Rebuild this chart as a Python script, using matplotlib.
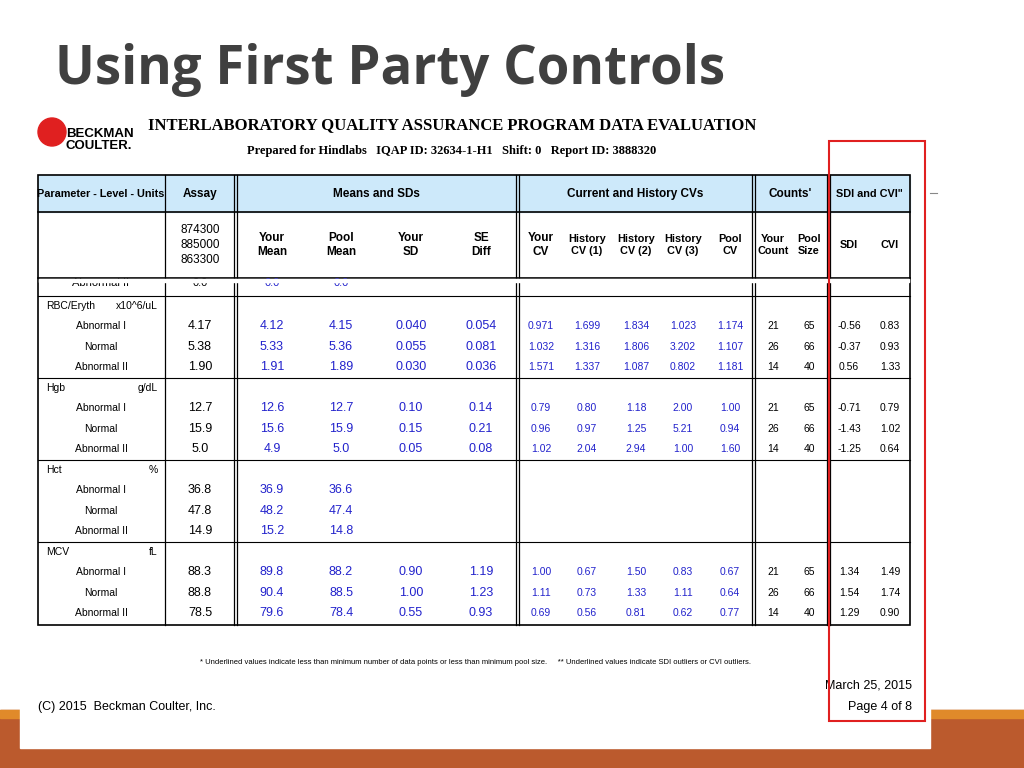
import matplotlib.pyplot as plt
from matplotlib.patches import Rectangle

# ---- data ----
assay_lots = ["874300", "885000", "863300"]
params = ["RBC/Eryth", "Hgb", "Hct", "MCV"]
units = ["x10^6/uL", "g/dL", "%", "fL"]
levels = ["Abnormal I", "Normal", "Abnormal II"]
assay = [["4.17", "5.38", "1.90"], ["12.7", "15.9", "5.0"], ["36.8", "47.8", "14.9"], ["88.3", "88.8", "78.5"]]
your_mean = [["4.12", "5.33", "1.91"], ["12.6", "15.6", "4.9"], ["36.9", "48.2", "15.2"], ["89.8", "90.4", "79.6"]]
pool_mean = [["4.15", "5.36", "1.89"], ["12.7", "15.9", "5.0"], ["36.6", "47.4", "14.8"], ["88.2", "88.5", "78.4"]]
your_sd = [["0.040", "0.055", "0.030"], ["0.10", "0.15", "0.05"], ["", "", ""], ["0.90", "1.00", "0.55"]]
se_diff = [["0.054", "0.081", "0.036"], ["0.14", "0.21", "0.08"], ["", "", ""], ["1.19", "1.23", "0.93"]]
your_cv = [["0.971", "1.032", "1.571"], ["0.79", "0.96", "1.02"], ["", "", ""], ["1.00", "1.11", "0.69"]]
hist1 = [["1.699", "1.316", "1.337"], ["0.80", "0.97", "2.04"], ["", "", ""], ["0.67", "0.73", "0.56"]]
hist2 = [["1.834", "1.806", "1.087"], ["1.18", "1.25", "2.94"], ["", "", ""], ["1.50", "1.33", "0.81"]]
hist3 = [["1.023", "3.202", "0.802"], ["2.00", "5.21", "1.00"], ["", "", ""], ["0.83", "1.11", "0.62"]]
pool_cv = [["1.174", "1.107", "1.181"], ["1.00", "0.94", "1.60"], ["", "", ""], ["0.67", "0.64", "0.77"]]
your_count = [["21", "26", "14"], ["21", "26", "14"], ["", "", ""], ["21", "26", "14"]]
pool_size = [["65", "66", "40"], ["65", "66", "40"], ["", "", ""], ["65", "66", "40"]]
sdi = [["-0.56", "-0.37", "0.56"], ["-0.71", "-1.43", "-1.25"], ["", "", ""], ["1.34", "1.54", "1.29"]]
cvi = [["0.83", "0.93", "1.33"], ["0.79", "1.02", "0.64"], ["", "", ""], ["1.49", "1.74", "0.90"]]

BLUE = "#2222cc"
columns = [(assay, 200, "black"), (your_mean, 272, BLUE), (pool_mean, 341, BLUE),
           (your_sd, 411, BLUE), (se_diff, 481, BLUE), (your_cv, 541, BLUE),
           (hist1, 587, BLUE), (hist2, 636, BLUE), (hist3, 683, BLUE),
           (pool_cv, 730, BLUE), (your_count, 773, "black"), (pool_size, 809, "black"),
           (sdi, 849, "black"), (cvi, 890, "black")]

F = "Liberation Sans"

fig = plt.figure(figsize=(10.24, 7.68), dpi=100)
ax = fig.add_axes([0, 0, 1, 1])
ax.set_xlim(0, 1024); ax.set_ylim(768, 0); ax.axis("off")

# slide background
ax.add_patch(Rectangle((0, 710), 1024, 58, color="#bb5a2d", zorder=0))
ax.add_patch(Rectangle((0, 710), 1024, 8, color="#e08a2a", zorder=0))
ax.add_patch(Rectangle((20, 100), 910, 648, color="white", zorder=1))
ax.text(55, 70, "Using First Party Controls", fontsize=38, fontweight="bold",
        color="#404040", family="Open Sans", va="center")

# logo + report header
ax.add_patch(plt.Circle((52, 132), 14, color="#e02020", zorder=2))
ax.text(66, 140, "BECKMAN\nCOULTER.", fontsize=9.5, fontweight="bold", family=F,
        va="center", linespacing=0.9, zorder=3)
ax.text(452, 125, "INTERLABORATORY QUALITY ASSURANCE PROGRAM DATA EVALUATION",
        fontsize=12, fontweight="bold", family="Liberation Serif", ha="center", va="center", zorder=3)
ax.text(452, 151, "Prepared for Hindlabs   IQAP ID: 32634-1-H1   Shift: 0   Report ID: 3888320",
        fontsize=9, fontweight="bold", family="Liberation Serif", ha="center", va="center", zorder=3)

# table frame
top, h1, h2, cut, bot = 175, 212, 278, 296, 625
ax.add_patch(Rectangle((38, top), 872, h1 - top, color="#cde9fa", zorder=2))
ax.add_patch(Rectangle((38, top), 872, bot - top, fill=False, lw=1.2, zorder=4))
for y in [h1, h2, cut, 378, 460, 542]:
    ax.plot([38, 910], [y, y], color="black", lw=1.2 if y in (h1, h2) else 0.8, zorder=4)
for x in [165, 235, 517, 753, 828]:
    for dx in (-1.5, 1.5) if x != 165 else (0,):
        ax.plot([x + dx, x + dx], [top, bot], color="black", lw=0.9, zorder=4)

kw = dict(family=F, fontsize=8.5, zorder=5, va="center")
for txt, x, fs in [("Parameter - Level - Units", 101, 7.8), ("Assay", 200, 8.5), ("Means and SDs", 376, 8.5),
                   ("Current and History CVs", 635, 8.5), ("Counts'", 790, 8.5), ("SDI and CVI\"", 869, 7.8)]:
    ax.text(x, 194, txt, ha="center", fontweight="bold", family=F, fontsize=fs, zorder=5, va="center")
ax.text(200, 245, "\n".join(assay_lots), ha="center", linespacing=1.3, **kw)
for txt, x in [("Your\nMean", 272), ("Pool\nMean", 341), ("Your\nSD", 411), ("SE\nDiff", 481),
               ("Your\nCV", 541), ("History\nCV (1)", 587), ("History\nCV (2)", 636),
               ("History\nCV (3)", 683), ("Pool\nCV", 730), ("Your\nCount", 773),
               ("Pool\nSize", 809), ("SDI", 849), ("CVI", 890)]:
    ax.text(x, 245, txt, ha="center", fontweight="bold", family=F,
            fontsize=8.5 if x < 560 else 7.8, zorder=5, va="center")
for txt, x, c in [("Abnormal II", 101, "black"), ("0.0", 200, "black"), ("0.0", 272, BLUE), ("0.0", 341, BLUE)]:
    ax.text(x, 283, txt, ha="center", color=c, family=F, fontsize=8, zorder=5, va="center")
ax.add_patch(Rectangle((39, 279), 870, 3, color="white", zorder=5))

small = dict(family=F, fontsize=7.5, zorder=5, va="center")
for s, (p, u) in enumerate(zip(params, units)):
    y0 = cut + 82 * s
    ax.text(46, y0 + 10, p, ha="left", **small)
    ax.text(158, y0 + 10, u, ha="right", **small)
    for r, lvl in enumerate(levels):
        y = y0 + 30 + 20.5 * r
        ax.text(101, y, lvl, ha="center", **small)
        for data, x, c in columns:
            ax.text(x, y, data[s][r], ha="center", color=c, family=F,
                    fontsize=9 if x < 520 else 7.5, zorder=5, va="center")

ax.text(476, 663, "* Underlined values indicate less than minimum number of data points or less than minimum pool size.     ** Underlined values indicate SDI outliers or CVI outliers.",
        fontsize=5.5, family=F, ha="center", va="center", zorder=5)
ax.text(38, 707, "(C) 2015  Beckman Coulter, Inc.", fontsize=9, family=F, va="center", zorder=5)
ax.text(912, 686, "March 25, 2015", fontsize=9, family=F, ha="right", va="center", zorder=5)
ax.text(912, 707, "Page 4 of 8", fontsize=9, family=F, ha="right", va="center", zorder=5)

# red highlight box
ax.add_patch(Rectangle((829, 141), 96, 580, fill=False, ec="#e02020", lw=1.5, zorder=6))
ax.plot([930, 937], [193, 193], color="#888888", lw=0.8, zorder=6)

fig.savefig("out.png", dpi=100)
